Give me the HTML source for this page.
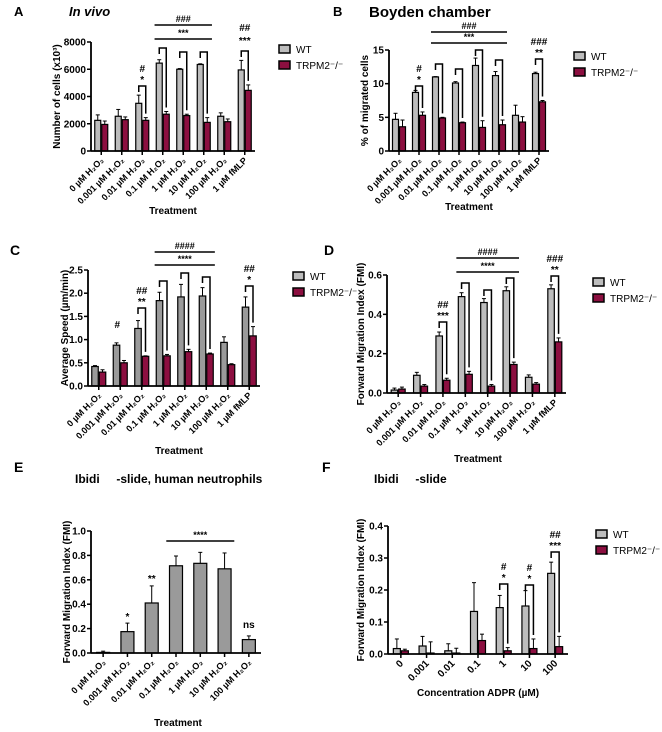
<!DOCTYPE html>
<html><head><meta charset="utf-8"><style>
body{margin:0;background:#fff}
svg{display:block;font-family:"Liberation Sans",sans-serif}
</style></head><body>
<svg id="fig" width="662" height="732" viewBox="0 0 662 732" xmlns="http://www.w3.org/2000/svg"></svg>
<script>
// ---- data ----
const catsH2O2 = ["0 µM H₂O₂","0.001 µM H₂O₂","0.01 µM H₂O₂","0.1 µM H₂O₂","1 µM H₂O₂","10 µM H₂O₂","100 µM H₂O₂","1 µM fMLP"];
const catsE = ["0 µM H₂O₂","0.001 µM H₂O₂","0.01 µM H₂O₂","0.1 µM H₂O₂","1 µM H₂O₂","10 µM H₂O₂","100 µM H₂O₂"];
const catsF = ["0","0.001","0.01","0.1","1","10","100"];

const aWT = [2250,2550,3500,6450,6000,6350,2550,5950];
const aWTerr = [400,500,600,250,50,50,250,700];
const aKO = [1950,2300,2250,2700,2600,2100,2150,4450];
const aKOerr = [250,200,200,200,100,350,200,400];
const aTicks = [0,2000,4000,6000,8000];

const bWT = [4.7,8.7,11,10.1,12.7,11.2,5.3,11.5];
const bWTerr = [0.9,0.3,0.05,0.2,1.1,0.6,1.5,0.2];
const bKO = [3.6,5.3,4.9,4.2,3.5,3.9,4.3,7.3];
const bKOerr = [1,0.5,0.1,0.1,1,0.7,0.8,0.2];
const bTicks = [0,5,10,15];

const cWT = [0.42,0.88,1.24,1.84,1.92,1.94,0.94,1.70];
const cWTerr = [0.02,0.05,0.17,0.18,0.27,0.18,0.12,0.22];
const cKO = [0.30,0.50,0.64,0.65,0.74,0.69,0.46,1.08];
const cKOerr = [0.05,0.05,0.01,0.03,0.05,0.02,0.02,0.2];
const cTicks = [0,0.5,1.0,1.5,2.0,2.5];

const dWT = [0.015,0.09,0.29,0.49,0.46,0.52,0.08,0.53];
const dWTerr = [0.01,0.015,0.02,0.02,0.02,0.02,0.012,0.02];
const dKO = [0.02,0.035,0.065,0.095,0.035,0.145,0.045,0.26];
const dKOerr = [0.01,0.008,0.01,0.015,0.008,0.012,0.008,0.02];
const dTicks = [0,0.2,0.4,0.6];

const eVal = [0.005,0.175,0.41,0.715,0.735,0.69,0.11];
const eErr = [0.01,0.07,0.14,0.08,0.09,0.13,0.03];
const eTicks = [0,0.2,0.4,0.6,0.8,1.0];

const fWT = [0.017,0.025,0.01,0.133,0.145,0.15,0.252];
const fWTerr = [0.03,0.03,0.022,0.09,0.038,0.048,0.035];
const fKO = [0.01,0.003,0.003,0.042,0.01,0.017,0.023];
const fKOerr = [0.005,0.035,0.015,0.02,0.01,0.03,0.032];
const fTicks = [0,0.1,0.2,0.3,0.4];

const GRAY="#bdbdbd", RED="#8c0f40";
const svg=document.getElementById('fig');
const NS="http://www.w3.org/2000/svg";
function el(tag,attrs,parent){const e=document.createElementNS(NS,tag);for(const k in attrs)e.setAttribute(k,attrs[k]);(parent||svg).appendChild(e);return e;}
function txt(s,attrs,parent){const e=el('text',attrs,parent);e.textContent=s;return e;}

function panel(p){
  const g=el('g',{});
  
  
  const ymax=p.ticks[p.ticks.length-1];
  const Y=v=>p.y0-(v/ymax)*(p.y0-p.yTop);
  const n=p.cats.length, step=(p.x1-p.x0)/n;
  const cx=i=>p.x0+(i+0.5)*step;
  const series=p.series;
  const bw=p.bw;
  series.forEach((s,si)=>{
    s.vals.forEach((v,i)=>{
      const off = series.length===1?0:(si===0?-bw/2-0.5:bw/2+0.5);
      const x=cx(i)+off-bw/2;
      const top=Y(v), et=Y(v+s.err[i]);
      const l=el('line',{x1:cx(i)+off,x2:cx(i)+off,y1:top,y2:et,stroke:'#000','stroke-width':1},g);
      
      
      el('line',{x1:cx(i)+off-2,x2:cx(i)+off+2,y1:et,y2:et,stroke:'#000','stroke-width':1},g);
      const r=el('rect',{x:x,y:top,width:bw,height:Math.max(0,p.y0-top),fill:s.color,stroke:'#000','stroke-width':1.2},g);
      
      
    });
  });
  const ya=el('line',{x1:p.x0,x2:p.x0,y1:p.y0,y2:p.yTop,stroke:'#000','stroke-width':1.8},g);
  
  
  const xa=el('line',{x1:p.x0,x2:p.x1,y1:p.y0,y2:p.y0,stroke:'#000','stroke-width':1.8},g);
  
  
  p.ticks.forEach((t,i)=>{
    el('line',{x1:p.x0-4,x2:p.x0,y1:Y(t),y2:Y(t),stroke:'#000','stroke-width':1.5},g);
    const tl=txt(p.tickLabels[i],{x:p.x0-5,y:Y(t)+3.5,'text-anchor':'end','font-size':10,'font-weight':'bold'},g);
    
    
  });
  p.cats.forEach((c,i)=>{
    el('line',{x1:cx(i),x2:cx(i),y1:p.y0,y2:p.y0+4,stroke:'#000','stroke-width':1.5},g);
    const tl=txt(c,{x:cx(i)+3,y:p.y0+10,'text-anchor':'end','font-size':p.catFont||9,'font-weight':'bold',transform:`rotate(-45 ${cx(i)+3} ${p.y0+10})`},g);
    
    
  });
  const yt=txt(p.ylabel,{x:0,y:0,'text-anchor':'middle','font-size':p.yFont||10,'font-weight':'bold',transform:`translate(${p.ylx},${(p.y0+p.yTop)/2}) rotate(-90)`},g);
  
  
  const xt=txt(p.xlabel,{x:p.xlx,y:p.xly,'text-anchor':'middle','font-size':10,'font-weight':'bold'},g);
  
  
  (p.brackets||[]).forEach(b=>{
    const xw=cx(b.i)-bw/2-0.5, xr=cx(b.i)+bw/2+0.5;
    const s2=series[1];
    const rt=Y(s2.vals[b.i]+s2.err[b.i])-4;
    const pa=el('path',{d:`M${xw},${b.y+6} V${b.y} H${xr} V${rt}`,fill:'none',stroke:'#000','stroke-width':1.5},g);
    
    
    (b.labels||[]).forEach((L,k)=>{
      const t=txt(L,{x:(xw+xr)/2,y:b.y-3-k*11,'text-anchor':'middle','font-size':10,'font-weight':'bold'},g);
      
      
    });
  });
  (p.lines||[]).forEach(b=>{
    el('line',{x1:cx(b.a)-step*0.4,x2:cx(b.b)+step*0.4,y1:b.y,y2:b.y,stroke:'#000','stroke-width':1.5},g);
    const t=txt(b.label,{x:(cx(b.a)+cx(b.b))/2,y:b.y-3,'text-anchor':'middle','font-size':9,'font-weight':'bold'},g);
    
    
  });
  (p.texts||[]).forEach(b=>{
    const t=txt(b.t,{x:cx(b.i)+(b.dx||0),y:b.y,'text-anchor':'middle','font-size':10,'font-weight':'bold'},g);
    
    
  });
  if(p.legend){
    [['WT',GRAY],['TRPM2⁻/⁻',RED]].forEach((L,k)=>{
      const r=el('rect',{x:p.legend[0],y:p.legend[1]+k*16-5,width:11,height:8,fill:L[1],stroke:'#000','stroke-width':1.5},g);
      
      
      const t=txt(L[0],{x:p.legend[0]+17,y:p.legend[1]+k*16+3,'font-size':10},g);
      
      
    });
  }
}

function label(s,x,y,extra,name){const t=txt(s,Object.assign({x:x,y:y,'font-weight':'bold','font-size':13},extra||{}));}
label('A',14,16,{},'panel-label-a');
label('In vivo',69,16,{'font-style':'italic','font-size':13},'panel-title-a');
label('B',333,16,{},'panel-label-b');
label('Boyden chamber',369,17,{'font-size':15},'panel-title-b');
label('C',10,255,{'font-size':14},'panel-label-c');
label('D',324,255,{'font-size':14},'panel-label-d');
label('E',14,472,{'font-size':14},'panel-label-e');
label('Ibidi\u00a0\u00a0\u00a0\u00a0\u00a0-slide, human neutrophils',75,483,{'font-size':12},'panel-title-e');
label('F',322,472,{'font-size':14},'panel-label-f');
label('Ibidi\u00a0\u00a0\u00a0\u00a0\u00a0-slide',374,483,{'font-size':12},'panel-title-f');

panel({name:'chart-a',cats:catsH2O2,x0:91,x1:255,y0:151,yTop:42,ticks:aTicks,tickLabels:aTicks.map(String),bw:6,
  series:[{key:'wt',vals:aWT,err:aWTerr,color:GRAY},{key:'trpm2',vals:aKO,err:aKOerr,color:RED}],
  ylabel:'Number of cells (x10³)',ylx:60,xlabel:'Treatment',xlx:173,xly:214,legend:[279,50],
  brackets:[{i:2,y:86,labels:['*','#']},{i:3,y:48},{i:4,y:52},{i:5,y:52},{i:7,y:51,labels:[]}],
  lines:[{a:3,b:5,y:25,label:'###'},{a:3,b:5,y:39,label:'***'}],
  texts:[{i:7,y:44,t:'***'},{i:7,y:31,t:'##'}]});

panel({name:'chart-b',cats:catsH2O2,x0:389,x1:549,y0:151,yTop:50,ticks:bTicks,tickLabels:bTicks.map(String),bw:6,
  series:[{key:'wt',vals:bWT,err:bWTerr,color:GRAY},{key:'trpm2',vals:bKO,err:bKOerr,color:RED}],
  ylabel:'% of migrated cells',ylx:368,xlabel:'Treatment',xlx:469,xly:210,legend:[574,57],
  brackets:[{i:1,y:86,labels:['*','#']},{i:2,y:64},{i:3,y:69},{i:4,y:50},{i:5,y:60},{i:7,y:59,labels:['**','###']}],
  lines:[{a:2,b:5,y:32,label:'###'},{a:2,b:5,y:43,label:'***'}]});

panel({name:'chart-c',cats:catsH2O2,x0:88,x1:260,y0:386,yTop:270,ticks:cTicks,tickLabels:cTicks.map(v=>v.toFixed(1)),bw:6.5,
  series:[{key:'wt',vals:cWT,err:cWTerr,color:'#9a9a9a'},{key:'trpm2',vals:cKO,err:cKOerr,color:RED}],
  ylabel:'Average Speed (µm/min)',ylx:68,xlabel:'Treatment',xlx:179,xly:454,legend:[293,277],
  brackets:[{i:2,y:308,labels:['**','##']},{i:3,y:281},{i:4,y:273},{i:5,y:277},{i:7,y:286,labels:['*','##']}],
  lines:[{a:3,b:5,y:252,label:'####'},{a:3,b:5,y:265,label:'****'}],
  texts:[{i:1,y:328,t:'#',dx:-3}]});

panel({name:'chart-d',cats:catsH2O2,x0:387,x1:566,y0:393,yTop:275,ticks:dTicks,tickLabels:dTicks.map(v=>v.toFixed(1)),bw:6.5,
  series:[{key:'wt',vals:dWT,err:dWTerr,color:GRAY},{key:'trpm2',vals:dKO,err:dKOerr,color:RED}],
  ylabel:'Forward Migration Index (FMI)',ylx:364,xlabel:'Treatment',xlx:478,xly:462,legend:[593,283],
  brackets:[{i:2,y:322,labels:['***','##']},{i:3,y:283},{i:4,y:290},{i:5,y:278},{i:7,y:276,labels:['**','###']}],
  lines:[{a:3,b:5,y:258,label:'####'},{a:3,b:5,y:272,label:'****'}]});

panel({name:'chart-e',cats:catsE,x0:91,x1:261,y0:653,yTop:531,ticks:eTicks,tickLabels:eTicks.map(v=>v.toFixed(1)),bw:13,
  series:[{key:'value',vals:eVal,err:eErr,color:'#9a9a9a'}],
  ylabel:'Forward Migration Index (FMI)',ylx:70,xlabel:'Treatment',xlx:178,xly:726,
  lines:[{a:3,b:5,y:541,label:'****'}],
  texts:[{i:1,y:620,t:'*'},{i:2,y:582,t:'**'},{i:6,y:628,t:'ns'}]});

panel({name:'chart-f',cats:catsF,x0:388,x1:568,y0:654,yTop:526,ticks:fTicks,tickLabels:fTicks.map(v=>v.toFixed(1)),bw:7,catFont:10,
  series:[{key:'wt',vals:fWT,err:fWTerr,color:GRAY},{key:'trpm2',vals:fKO,err:fKOerr,color:RED}],
  ylabel:'Forward Migration Index (FMI)',ylx:364,xlabel:'Concentration ADPR (µM)',xlx:478,xly:696,legend:[596,535],
  brackets:[{i:4,y:584,labels:['*','#']},{i:5,y:585,labels:['*','#']},{i:6,y:552,labels:['***','##']}]});
</script>
</body></html>
